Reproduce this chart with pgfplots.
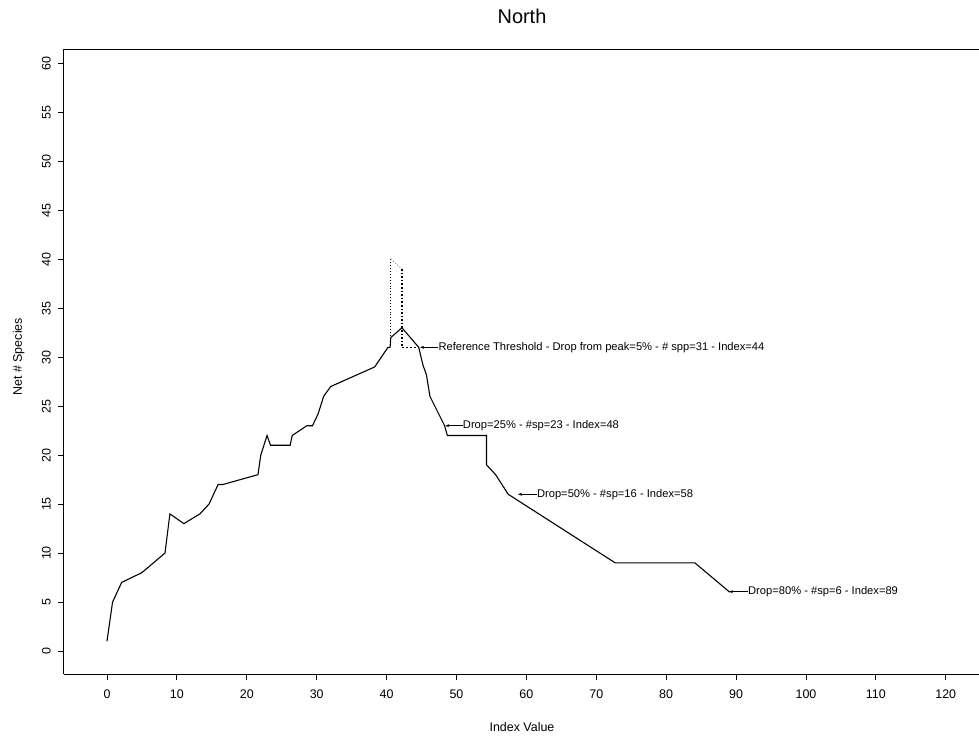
\documentclass[border=0pt]{standalone}
\usepackage{fontspec}
\setmainfont{Liberation Sans}
\usepackage{pgfplots}
\pgfplotsset{compat=1.18}
\usetikzlibrary{arrows.meta}

\begin{document}
\begin{tikzpicture}
\begin{axis}[
    scale only axis, width=916bp, height=624.5bp,
    xmin=-6.15, xmax=124.9, ymin=-2.35, ymax=61.41,
    axis lines*=left, axis line style={black, line width=1bp},
    xtick={0,10,...,120}, ytick={0,5,...,60},
    tick align=outside, major tick length=6bp,
    tick style={black, line width=0.8bp},
    /pgf/number format/assume math mode=true,
    tick label style={font=\fontsize{12.5}{14}\selectfont},
    xticklabel style={anchor=north, inner sep=0pt, yshift=-10bp},
    yticklabel style={rotate=90, anchor=south, inner sep=0pt, yshift=7bp},
    title={North},
    title style={font=\fontsize{20}{24}\selectfont, at={(axis description cs:0.5,1.0328)}, anchor=base, yshift=0pt},
    xlabel={Index Value},
    xlabel style={font=\fontsize{12.5}{14}\selectfont, at={(axis description cs:0.5,-0.0924)}, anchor=base},
    ylabel={Net \# Species},
    ylabel style={font=\fontsize{12.5}{14}\selectfont, at={(axis description cs:-0.0459,0.508)}, anchor=base},
]
% main curve
\addplot[black, line width=1.1bp] coordinates {
  (0,1) (0.8,5) (2.1,7) (5,8) (8.3,10) (9,14) (11,13) (13.3,14) (14.6,15)
  (15.9,17) (16.6,17) (21.6,18) (22,20) (22.9,22) (23.4,21) (26.2,21) (26.5,22)
  (28.6,23) (29.4,23) (30.2,24.2) (31,26) (32,27) (38.3,29) (40.2,31) (40.5,31)
  (40.6,32) (42.2,33) (44.6,31) (45.2,29.2) (45.7,28.2) (46.2,26) (46.9,25)
  (48.3,23) (48.7,22) (54.3,22) (54.3,19) (55.6,18) (57.4,16) (72.7,9) (84.1,9)
  (89.1,6)
};
% threshold construction
\addplot[black, line width=0.9bp, dotted] coordinates {(40.6,32.2) (40.6,40)};
\addplot[gray, line width=0.9bp, dotted] coordinates {(40.6,40) (42.2,39)};
\addplot[black, line width=1.6bp, dotted] coordinates {(42.2,39) (42.2,31)};
\addplot[black, line width=0.9bp, dash pattern=on 2bp off 2bp] coordinates {(42.2,31) (44.5,31)};
% annotations
\addplot[black, line width=0.8bp, -{Stealth[length=4bp,width=3bp]}] coordinates {(47.4,31) (44.8,31)};
\addplot[black, line width=0.8bp, -{Stealth[length=4bp,width=3bp]}] coordinates {(50.9,23) (48.4,23)};
\addplot[black, line width=0.8bp, -{Stealth[length=4bp,width=3bp]}] coordinates {(61.5,16) (58.8,16)};
\addplot[black, line width=0.8bp, -{Stealth[length=4bp,width=3bp]}] coordinates {(91.7,6.05) (89.0,6.05)};
\node[anchor=west, inner sep=0pt, font=\fontsize{11.2}{13}\selectfont] at (axis cs:47.4,31) {Reference Threshold - Drop from peak=5\% - \# spp=31 - Index=44};
\node[anchor=west, inner sep=0pt, font=\fontsize{11.2}{13}\selectfont] at (axis cs:50.9,23) {Drop=25\% - \#sp=23 - Index=48};
\node[anchor=west, inner sep=0pt, font=\fontsize{11.2}{13}\selectfont] at (axis cs:61.5,16) {Drop=50\% - \#sp=16 - Index=58};
\node[anchor=west, inner sep=0pt, font=\fontsize{11.2}{13}\selectfont] at (axis cs:91.7,6.05) {Drop=80\% - \#sp=6 - Index=89};
% top frame line
\draw[black, line width=1bp] (rel axis cs:0,1) -- (rel axis cs:1,1);
\end{axis}
\pgfresetboundingbox
\useasboundingbox (-64bp,-67bp) rectangle (915bp,674bp);
\end{tikzpicture}
\end{document}
